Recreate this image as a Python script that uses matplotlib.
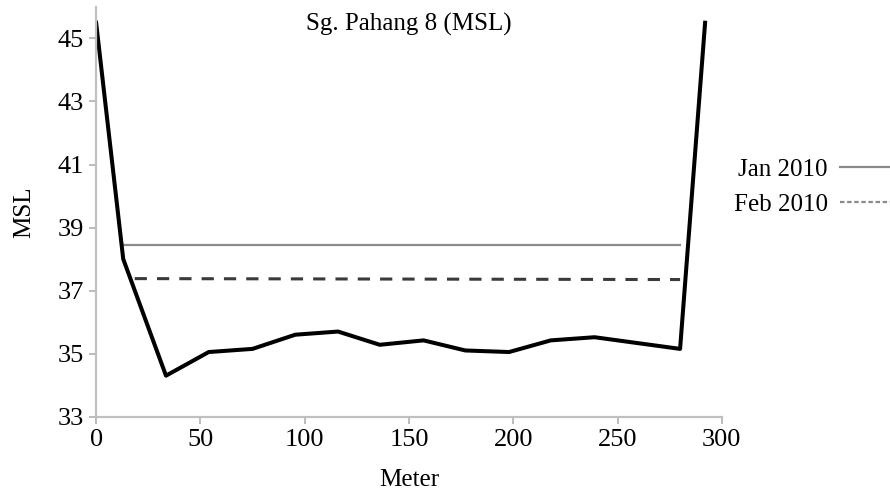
import matplotlib
matplotlib.use("Agg")
import matplotlib.pyplot as plt
from matplotlib.lines import Line2D

# Cross-section profile (bed level)
meter = [0, 13, 33.5, 54, 75, 95.5, 116, 136, 157, 177, 198, 218, 239, 280, 292]
msl = [45.5, 38.0, 34.3, 35.05, 35.15, 35.6, 35.7, 35.28, 35.42, 35.1, 35.05,
       35.42, 35.52, 35.15, 45.5]

# Water levels
jan_x = [13, 280]
jan_level = [38.45, 38.45]
feb_x = [18.5, 280]
feb_level = [37.38, 37.35]

xticks = [0, 50, 100, 150, 200, 250, 300]
yticks = [33, 35, 37, 39, 41, 43, 45]

plt.rcParams['font.family'] = ['Liberation Serif', 'DejaVu Serif']

fig = plt.figure(figsize=(8.9, 4.96), dpi=100)
ax = fig.add_axes([0.108, 0.16, 0.703, 0.826])

ax.plot(jan_x, jan_level, color='#8a8a8a', lw=1.6)
ax.plot(feb_x, feb_level, color='#3a3a3a', lw=2.2, dashes=(4, 3.3))
ax.plot(meter, msl, color='black', lw=2.9, solid_joinstyle='round')

ax.set_xlim(0, 300)
ax.set_ylim(33, 46)
ax.set_xticks(xticks)
ax.set_yticks(yticks)
ax.tick_params(labelsize=19, color='#b0b0b0', length=5, width=1.2,
               direction='out', pad=4)
for s in ['top', 'right']:
    ax.spines[s].set_visible(False)
for s in ['left', 'bottom']:
    ax.spines[s].set_color('#c0c0c0')
    ax.spines[s].set_linewidth(1.6)

ax.set_xlabel('Meter', fontsize=18, labelpad=13)
ax.set_ylabel('MSL', fontsize=18, labelpad=16)
ax.text(0.5, 0.985, 'Sg. Pahang 8 (MSL)', transform=ax.transAxes, ha='center',
        va='top', fontsize=18)

handles = [Line2D([], [], color='#8a8a8a', lw=1.6),
           Line2D([], [], color='#8a8a8a', lw=1.6, dashes=(2, 1.2))]
fig.legend(handles, ['Jan 2010', 'Feb 2010'], loc='center right',
           bbox_to_anchor=(1.0, 0.622), frameon=False, markerfirst=False,
           fontsize=18, handlelength=2.0, handletextpad=0.5, labelspacing=0.5,
           borderpad=0, borderaxespad=0)

fig.savefig('out.png', dpi=100)
